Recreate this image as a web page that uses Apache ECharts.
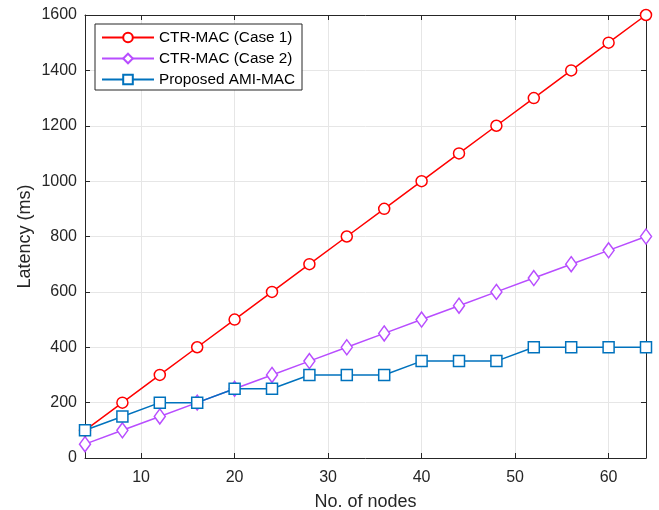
<!DOCTYPE html>
<html><head><meta charset="utf-8">
<script src="https://cdn.jsdelivr.net/npm/echarts@6/dist/echarts.min.js"></script>
<style>html,body{margin:0;padding:0;background:#fff}#c{width:659px;height:510px}</style>
</head><body><div id="c"></div>
<script>
const nodes = [4,8,12,16,20,24,28,32,36,40,44,48,52,56,60,64];
const case1 = [100,200,300,400,500,600,700,800,900,1000,1100,1200,1300,1400,1500,1600];
const case2 = [50,100,150,200,250,300,350,400,450,500,550,600,650,700,750,800];
const ami = [100,150,200,200,250,250,300,300,300,350,350,350,400,400,400,400];
const seriesNames = ['CTR-MAC (Case 1)','CTR-MAC (Case 2)','Proposed AMI-MAC'];
const xTicks = [10,20,30,40,50,60];

const pair = (ys) => nodes.map((x,i)=>[x, ys[i]]);
const font = 'Liberation Sans, Arial, Helvetica, sans-serif';
const axisCol = '#262626';
const chart = echarts.init(document.getElementById('c'), null, {renderer:'canvas'});
const baseX = {
  type:'value', min:4, max:64,
  axisLine:{show:true, onZero:false, lineStyle:{color:axisCol, width:1}},
  axisTick:{show:true, inside:true, length:5, customValues:xTicks, lineStyle:{color:axisCol}},
  splitLine:{show:false}
};
const baseY = {
  type:'value', min:0, max:1600, interval:200,
  axisLine:{show:true, onZero:false, lineStyle:{color:axisCol, width:1}},
  axisTick:{show:true, inside:true, length:5, lineStyle:{color:axisCol}},
  splitLine:{show:false}
};
chart.setOption({
  animation:false,
  backgroundColor:'#fff',
  grid:{left:85, right:13, top:15, bottom:52, containLabel:false, outerBoundsMode:'none'},
  legend:{
    left:95, top:24, orient:'vertical', itemGap:6, itemWidth:52, itemHeight:12,
    backgroundColor:'#fff', borderColor:'#262626', borderWidth:1, borderRadius:0,
    padding:[6,7,3,6],
    textStyle:{fontFamily:font, fontSize:15.3, color:'#000'},
    data: seriesNames
  },
  xAxis:[
    Object.assign({}, baseX, {
      position:'bottom',
      axisLabel:{show:true, fontFamily:font, fontSize:16, color:axisCol, margin:12, customValues:xTicks},
      name:'No. of nodes', nameLocation:'middle', nameGap:35,
      nameTextStyle:{fontFamily:font, fontSize:18, color:axisCol},
      splitLine:{show:true, lineStyle:{color:'#e6e6e6', width:1}}
    }),
    Object.assign({}, baseX, {position:'top', axisLabel:{show:false}})
  ],
  yAxis:[
    Object.assign({}, baseY, {
      position:'left',
      axisLabel:{show:true, fontFamily:font, fontSize:16, color:axisCol, margin:8, formatter:(v)=>String(v)},
      name:'Latency (ms)', nameLocation:'middle', nameGap:51, nameRotate:90, nameMoveOverlap:false,
      nameTextStyle:{fontFamily:font, fontSize:18, color:axisCol},
      splitLine:{show:true, lineStyle:{color:'#e6e6e6', width:1}}
    }),
    Object.assign({}, baseY, {position:'right', axisLabel:{show:false}})
  ],
  series:[
    {name:seriesNames[0], type:'line', data:pair(case1), symbol:'circle', symbolSize:11,
      lineStyle:{color:'#ff0000', width:1.5}, itemStyle:{color:'#fff', borderColor:'#ff0000', borderWidth:1.5}, z:3},
    {name:seriesNames[1], type:'line', data:pair(case2), symbol:'diamond', symbolSize:[11,15],
      lineStyle:{color:'#b84dff', width:1.5}, itemStyle:{color:'#fff', borderColor:'#b84dff', borderWidth:1.5}, z:2},
    {name:seriesNames[2], type:'line', data:pair(ami), symbol:'rect', symbolSize:11,
      lineStyle:{color:'#0072bd', width:1.5}, itemStyle:{color:'#fff', borderColor:'#0072bd', borderWidth:1.5}, z:4}
  ]
});
</script></body></html>
